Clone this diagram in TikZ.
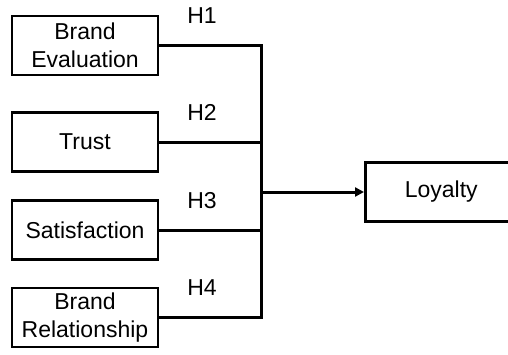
\documentclass[tikz,border=0pt]{standalone}
\usepackage{fontspec}
\setmainfont{Liberation Sans}
\usetikzlibrary{arrows.meta}

\begin{document}
\begin{tikzpicture}[x=1pt, y=-1pt,
    box/.style={draw, line width=2.6pt, minimum width=146pt, minimum height=59pt,
      align=center, inner sep=0pt, font=\fontsize{23}{28}\selectfont},
    hyp/.style={font=\fontsize{23}{28}\selectfont, anchor=base, yshift=22pt},
    link/.style={line width=3pt}]
  \useasboundingbox (0,0) rectangle (508,354);
  \node[box] (eval) at (85, 45.5) {Brand\\Evaluation};
  \node[box] (trust) at (85, 142) {Trust};
  \node[box] (satis) at (85, 230) {Satisfaction};
  \node[box] (rel) at (85, 317.5) {Brand\\Relationship};
  \node[box, anchor=west, minimum width=152pt] (loyal) at (364, 192) {Loyalty};
  \coordinate (top) at (261, 45.5);
  \coordinate (bottom) at (261, 317.5);
  \coordinate (join) at (261, 192);
  % outer paths and the spine
  \draw[link] (eval.east) -- node[pos=0.42, hyp] {H1} (top) -- (bottom)
    -- node[pos=0.58, hyp] {H4} (rel.east);
  \draw[link] (trust.east) -- node[pos=0.42, hyp] {H2} (trust.east -| top);
  \draw[link] (satis.east) -- node[pos=0.42, hyp] {H3} (satis.east -| top);
  \draw[link, -{Triangle[length=9pt, width=9pt]}] (join) -- (loyal.west);
\end{tikzpicture}
\end{document}
